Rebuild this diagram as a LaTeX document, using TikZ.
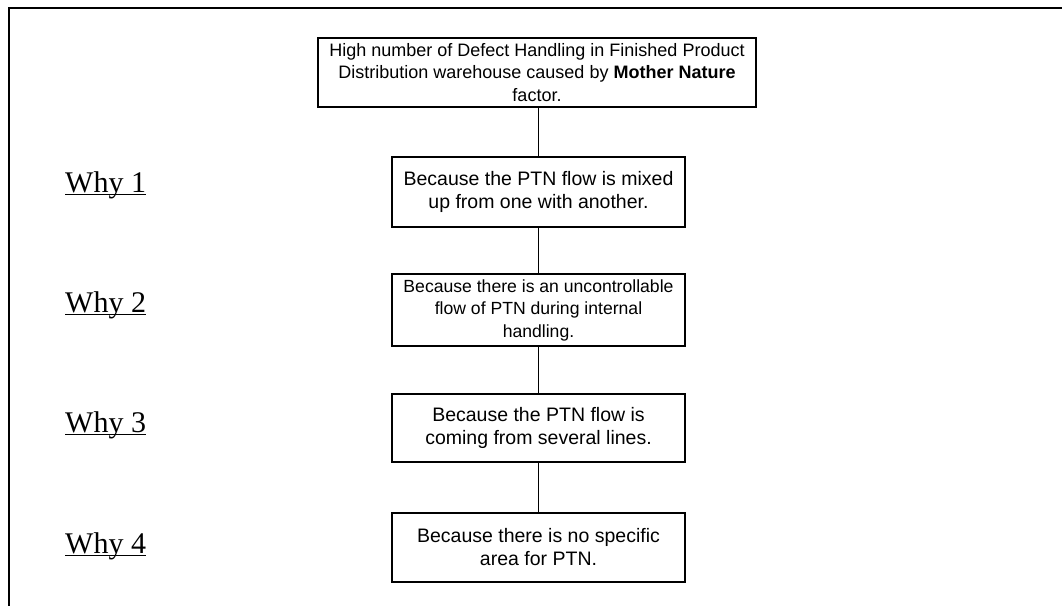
\documentclass[tikz,border=0pt]{standalone}
\usepackage{fontspec}
\setmainfont{Liberation Serif}
\newfontfamily\arialfont{Liberation Sans}
\begin{document}
\begin{tikzpicture}[x=1pt,y=-1pt,
  causebox/.style={draw, line width=1.2pt, align=center, inner sep=0pt,
    font=\arialfont\fontsize{19.5}{23}\selectfont,
    minimum width=293pt, minimum height=70pt},
  whylabel/.style={inner sep=0pt, font=\fontsize{30}{34}\selectfont},
  link/.style={line width=0.9pt},
  uline/.style={line width=1.7pt}]
\useasboundingbox (0,0) rectangle (1062,606);

% frame
\draw[line width=2pt] (1062,7.5) -- (8.5,7.5) -- (8.5,606);

% problem statement
\node[draw, line width=1.2pt, align=center, inner sep=0pt,
  font=\arialfont\fontsize{18}{22.5}\selectfont,
  minimum width=438pt, minimum height=69pt] (top) at (537,72.5)
  {High number of Defect Handling in Finished Product\\
   Distribution warehouse caused by \textbf{Mother Nature}\\
   factor.};

% causes
\node[causebox] (c1) at (538.5,192)
  {Because the PTN flow is mixed\\ up from one with another.};
\node[causebox, font=\arialfont\fontsize{17.6}{22.5}\selectfont,
  minimum height=72pt] (c2) at (538.5,310)
  {Because there is an uncontrollable\\ flow of PTN during internal\\ handling.};
\node[causebox, minimum height=68pt] (c3) at (538.5,428)
  {Because the PTN flow is\\ coming from several lines.};
\node[causebox, minimum height=69pt] (c4) at (538.5,547.5)
  {Because there is no specific\\ area for PTN.};

% connectors
\draw[link] (top.south -| c1.north) -- (c1.north);
\draw[link] (c1) -- (c2);
\draw[link] (c2) -- (c3);
\draw[link] (c3) -- (c4);

% why labels
\foreach \i/\yb in {1/192,2/312,3/432,4/553}{
  \node[whylabel, anchor=base west] (w\i) at (65,\yb) {Why \i};
  \draw[uline] ([yshift=-2.5pt]w\i.base west) -- ([yshift=-2.5pt]w\i.base east);
}
\end{tikzpicture}
\end{document}
